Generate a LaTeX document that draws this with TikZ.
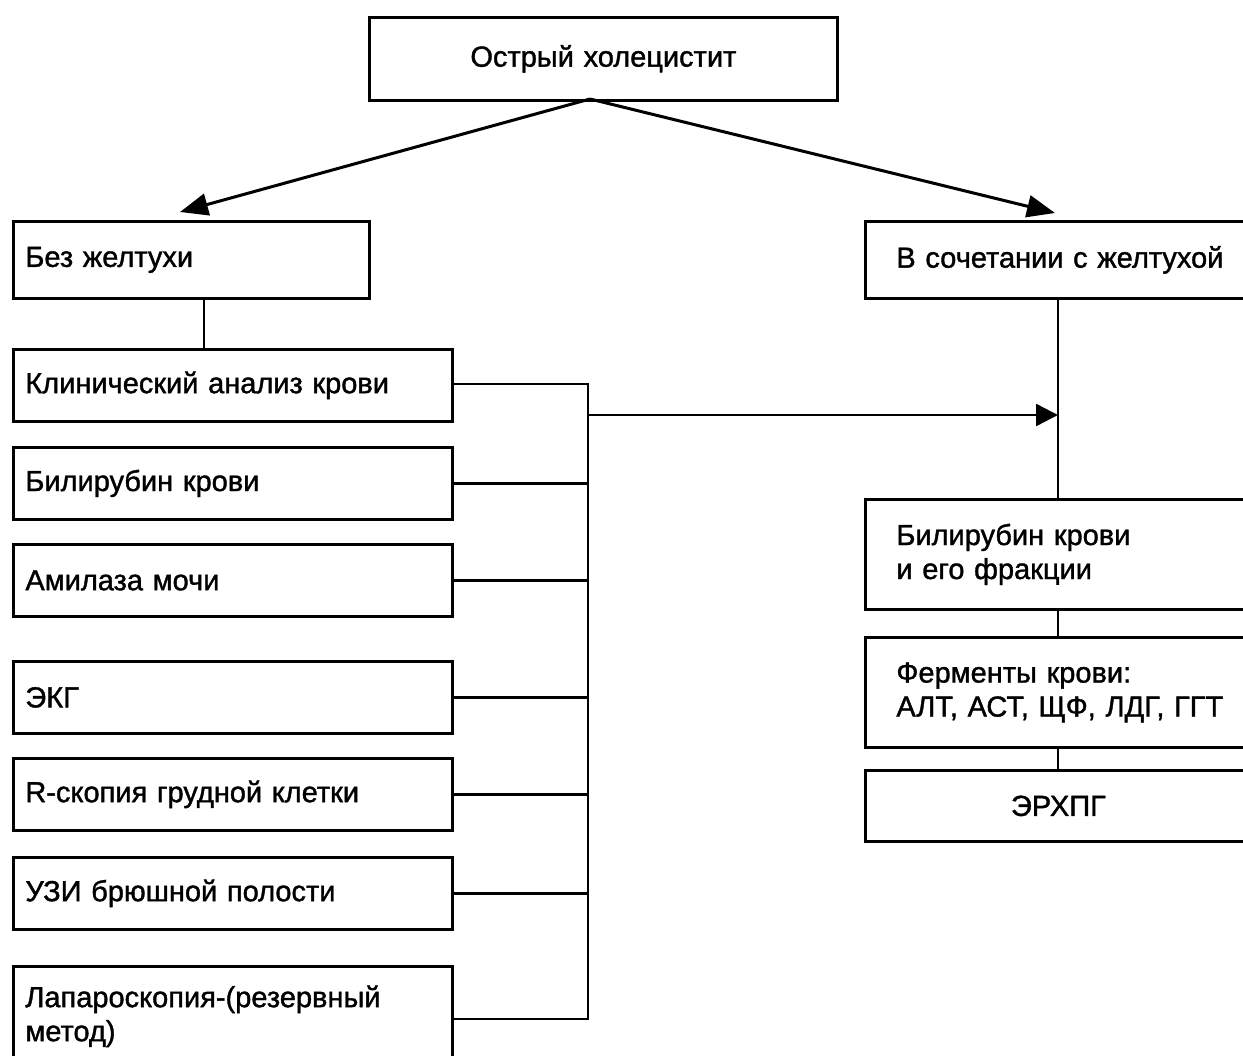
\documentclass[tikz,border=0pt]{standalone}
\usepackage{fontspec}
\setmainfont{Liberation Sans}
\newfontfamily\dfont[FakeBold=1.3]{Liberation Sans}
\usetikzlibrary{arrows.meta}
\begin{document}
\begin{tikzpicture}[x=1pt,y=-1pt,
  box/.style={draw, line width=2.8pt, inner xsep=12pt, inner ysep=0pt,
    font=\dfont\fontsize{29}{34}\selectfont, align=left, anchor=north west},
  lbox/.style={box, text width=415pt, minimum width=439pt, minimum height=72pt},
  rbox/.style={box, inner xsep=31pt, text width=334pt, minimum width=396pt},
  conn/.style={line width=2.4pt},
  arr/.style={line width=3pt, -{Triangle[length=28pt, width=22pt]}}]
\useasboundingbox (0,0) rectangle (1243,1056);
\clip (0,0) rectangle (1243,1056);

\node[box, align=center, text width=444pt, minimum width=468pt, minimum height=83pt] (top) at (368,16) {Острый холецистит};
\node[box, text width=332pt, minimum width=356pt, minimum height=77pt] (bez) at (12,220) {Без желтухи};
\node[rbox, minimum height=77pt] (vs) at (864,220) {В сочетании с желтухой};

\node[lbox] (k1) at (12,348) {Клинический анализ крови};
\node[lbox] (k2) at (12,446) {Билирубин крови};
\node[lbox] (k3) at (12,543) {Амилаза мочи};
\node[lbox] (k4) at (12,660) {ЭКГ};
\node[lbox] (k5) at (12,757) {R-скопия грудной клетки};
\node[lbox] (k6) at (12,856) {УЗИ брюшной полости};
\node[lbox, minimum height=100pt] (k7) at (12,965) {Лапароскопия-(резервный\\метод)};

\node[rbox, minimum height=110pt] (r1) at (864,498) {Билирубин крови\\и его фракции};
\node[rbox, minimum height=110pt] (r2) at (864,636) {Ферменты крови:\\АЛТ, АСТ, ЩФ, ЛДГ, ГГТ};
\node[rbox, align=center, text width=324pt, minimum width=386pt, minimum height=71pt] (r3) at (864,769) {ЭРХПГ};

\coordinate (src) at (590,99);
\coordinate (aL) at (180,212);
\coordinate (aR) at (1055,213);
\draw[arr] (src) -- (aL);
\draw[arr] (src) -- (aR);

\coordinate (bx) at (588,0);
\coordinate (rx) at (1058,0);
\coordinate (c7) at (451,1019);
\coordinate (c1) at (451,384);

\draw[conn] (bez.south -| 204,0) -- (k1.north -| 204,0);

\foreach \n in {k2,k3,k4,k5,k6} {
  \draw[conn] (\n.east) -- (\n.east -| bx);
}
\draw[conn] (c1) -- (c1 -| bx) -- (c7 -| bx) -- (c7);

\coordinate (ast) at (588,415);
\draw[conn, -{Triangle[length=22pt, width=22pt]}] (ast) -- (ast -| rx);

\draw[conn] (vs.south -| rx) -- (r1.north -| rx);
\draw[conn] (r1.south -| rx) -- (r2.north -| rx);
\draw[conn] (r2.south -| rx) -- (r3.north -| rx);
\end{tikzpicture}
\end{document}
